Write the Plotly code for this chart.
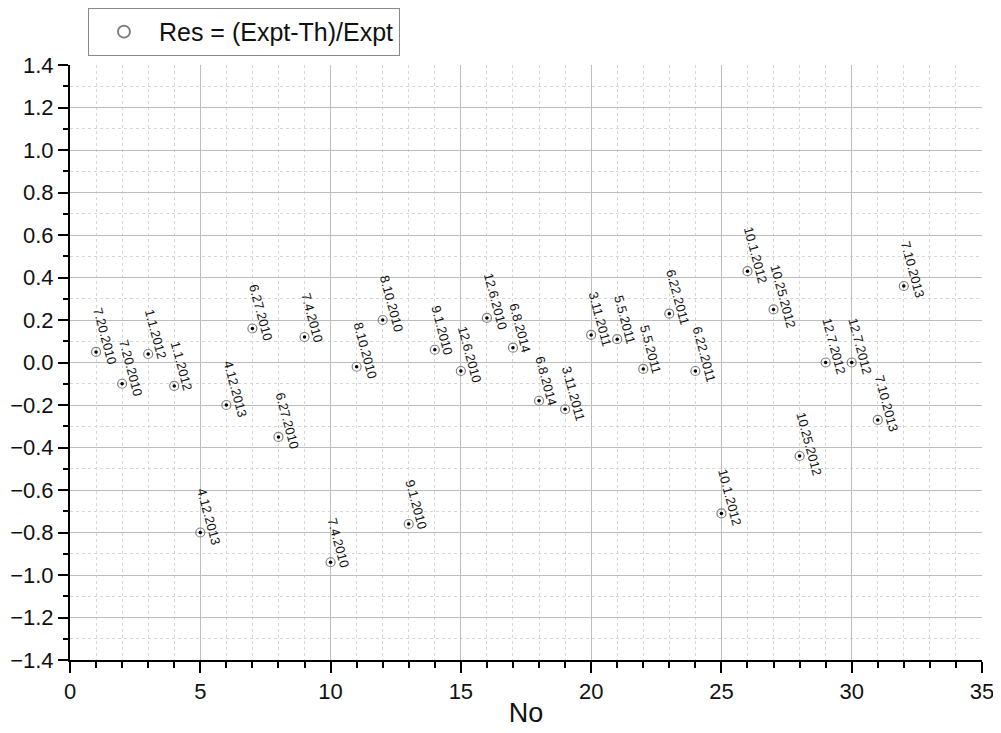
import math
import plotly.graph_objects as go

no = list(range(1, 33))
res = [0.05, -0.10, 0.04, -0.11, -0.80, -0.20, 0.16, -0.35, 0.12, -0.94,
       -0.02, 0.20, -0.76, 0.06, -0.04, 0.21, 0.07, -0.18, -0.22, 0.13,
       0.11, -0.03, 0.23, -0.04, -0.71, 0.43, 0.25, -0.44, 0.00, 0.00,
       -0.27, 0.36]
labels = ["7.20.2010", "7.20.2010", "1.1.2012", "1.1.2012", "4.12.2013", "4.12.2013",
          "6.27.2010", "6.27.2010", "7.4.2010", "7.4.2010", "8.10.2010", "8.10.2010",
          "9.1.2010", "9.1.2010", "12.6.2010", "12.6.2010", "6.8.2014", "6.8.2014",
          "3.11.2011", "3.11.2011", "5.5.2011", "5.5.2011", "6.22.2011", "6.22.2011",
          "10.1.2012", "10.1.2012", "10.25.2012", "10.25.2012", "12.7.2012", "12.7.2012",
          "7.10.2013", "7.10.2013"]

FONT = "Arial, Liberation Sans, sans-serif"
fig = go.Figure()
fig.add_trace(go.Scatter(
    x=no, y=res, mode="markers", name="Res = (Expt-Th)/Expt",
    marker=dict(symbol="circle-open", size=9, color="#808080", line=dict(width=1.2)),
))
fig.add_trace(go.Scatter(
    x=no, y=res, mode="markers", showlegend=False, hoverinfo="skip",
    marker=dict(symbol="circle", size=3.5, color="#000000"),
))

ang = 75
fs = 13
for xv, yv, t in zip(no, res, labels):
    L = sum(0.556 if c.isdigit() else 0.278 for c in t) * fs
    dx = 1 + L / 2 * math.cos(math.radians(ang))
    dy = 44 - L / 2 * math.sin(math.radians(ang))
    fig.add_annotation(x=xv, y=yv, text=t, showarrow=False, textangle=ang,
                       xanchor="center", yanchor="middle", xshift=dx, yshift=dy,
                       font=dict(family=FONT, size=fs, color="#111111"))

# the page body adds an 8px margin around the figure
fig.update_layout(
    width=993, height=725,
    margin=dict(l=62, r=19, t=57, b=73, autoexpand=False),
    paper_bgcolor="white", plot_bgcolor="white",
    font=dict(family=FONT, color="#111111"),
    showlegend=True,
    legend=dict(x=0.0197, y=1.096, xanchor="left", yanchor="top",
                bordercolor="#888888", borderwidth=1, bgcolor="white",
                font=dict(size=25, family=FONT), itemsizing="constant",
                itemwidth=60),
    xaxis=dict(
        range=[0, 35], dtick=5, tick0=0, automargin=False,
        showline=True, linecolor="black", linewidth=2,
        ticks="outside", ticklen=11, tickwidth=2, tickcolor="black",
        showgrid=True, gridcolor="#bdbdbd", gridwidth=1, zeroline=False,
        tickfont=dict(size=22),
        title=dict(text="No", font=dict(size=27), standoff=0),
        minor=dict(dtick=1, showgrid=True, gridcolor="#d6d6d6", griddash="dot",
                   ticks="outside", ticklen=6, tickwidth=1.5, tickcolor="black"),
    ),
    yaxis=dict(
        range=[-1.4, 1.4], dtick=0.2, tick0=0, tickformat=".1f", automargin=False,
        showline=True, linecolor="black", linewidth=2,
        ticks="outside", ticklen=10, tickwidth=2, tickcolor="black",
        showgrid=True, gridcolor="#bdbdbd", gridwidth=1, zeroline=False,
        tickfont=dict(size=22),
        minor=dict(dtick=0.1, showgrid=True, gridcolor="#d6d6d6", griddash="dot",
                   ticks="outside", ticklen=5, tickwidth=1.5, tickcolor="black"),
    ),
)
fig.write_html("out.html")
